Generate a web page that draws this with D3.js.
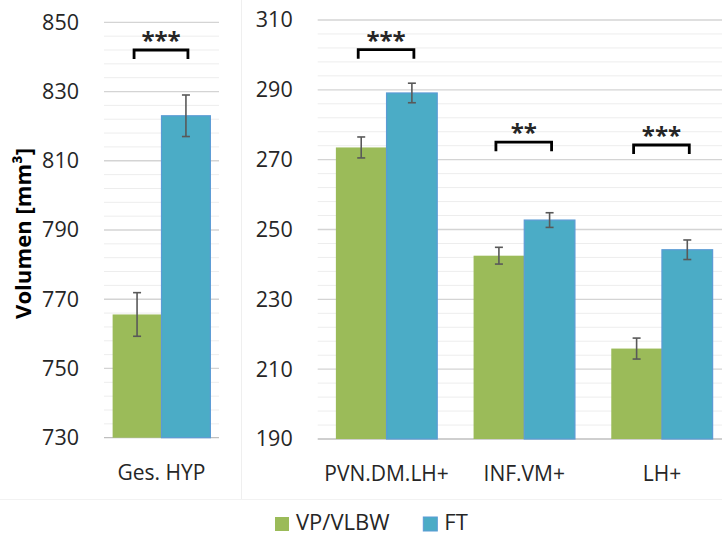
<!DOCTYPE html>
<html>
<head>
<meta charset="utf-8">
<script src="https://cdn.jsdelivr.net/npm/d3@7"></script>
<style>
	body { margin: 0; background: #fff; }
	svg { display: block; font-family: 'Open Sans', sans-serif; }
</style>
</head>
<body>
<div id="chart"></div>
<script>
const series = ['VP/VLBW', 'FT'];
const seriesColors = ['#9bbb59', '#4bacc6'];

const totalCategories = ['Ges. HYP'];
const totalVp = [765.6];
const totalVpErr = [6.3];
const totalFt = [823.0];
const totalFtErr = [6.0];
const totalTicks = [730, 750, 770, 790, 810, 830, 850];
const totalStars = ['***'];
const totalStarLevel = [842];

const regionCategories = ['PVN.DM.LH+', 'INF.VM+', 'LH+'];
const regionVp = [273.5, 242.5, 215.9];
const regionVpErr = [3.0, 2.4, 3.0];
const regionFt = [289.1, 252.7, 244.2];
const regionFtErr = [2.8, 2.1, 2.8];
const regionTicks = [190, 210, 230, 250, 270, 290, 310];
const regionStars = ['***', '**', '***'];
const regionStarLevel = [301.5, 275, 274.2];

class BarPanel {

	/**
	 * @param {d3.selection} svg
	 * @param {Object} opts
	 */
	constructor(svg, opts) {
		this.svg = svg;
		this.opts = opts;
	}

	draw(data) {
		const o = this.opts;
		this.g = this.svg.append('g');

		this.x = d3.scaleBand()
			.domain(data.categories)
			.range([o.left, o.right])
			.paddingInner(o.pad)
			.paddingOuter(o.pad / 2);

		this.xs = d3.scaleBand()
			.domain(series)
			.range([0, this.x.bandwidth()]);

		this.y = d3.scaleLinear()
			.domain(o.domain)
			.range([o.bottom, o.top]);

		this._drawGrid(o);
		this._drawAxes(data, o);
		this._drawBars(data);
		this._drawStars(data);
	}

	_drawGrid(o) {
		const [lo, hi] = o.domain;
		const minor = d3.range(lo, hi + 0.01, 4).filter(v => (v - lo) % 20 !== 0);

		this.g.append('g')
			.selectAll('line')
			.data(minor)
			.join('line')
			.attr('x1', o.left).attr('x2', o.gridEnd)
			.attr('y1', d => this.y(d)).attr('y2', d => this.y(d))
			.attr('stroke', '#ededed')
			.attr('stroke-width', 1);

		this.g.append('g')
			.selectAll('line')
			.data(o.ticks)
			.join('line')
			.attr('x1', o.left).attr('x2', o.gridEnd)
			.attr('y1', d => this.y(d)).attr('y2', d => this.y(d))
			.attr('stroke', d => d === lo ? '#bfbfbf' : '#d4d4d4')
			.attr('stroke-width', 1.3);
	}

	_drawAxes(data, o) {
		const yAxis = this.g.append('g')
			.attr('transform', `translate(${o.left},0)`)
			.call(d3.axisLeft(this.y).tickValues(o.ticks).tickSize(0).tickPadding(25));
		yAxis.select('.domain').remove();
		yAxis.selectAll('text')
			.attr('font-family', 'Open Sans')
			.attr('font-size', 21.5)
			.attr('fill', '#262626');

		const xAxis = this.g.append('g')
			.attr('transform', `translate(0,${o.bottom})`)
			.call(d3.axisBottom(this.x).tickSize(0).tickPadding(0));
		xAxis.select('.domain').remove();
		xAxis.selectAll('text')
			.attr('font-family', 'Open Sans')
			.attr('font-size', 21)
			.attr('fill', '#262626')
			.attr('dy', 0)
			.attr('y', 42);
	}

	_drawBars(data) {
		const rows = data.categories.map((c, i) => ({
			cat: c,
			vals: [
				{ s: series[0], v: data.vp[i], e: data.vpErr[i] },
				{ s: series[1], v: data.ft[i], e: data.ftErr[i] }
			]
		}));

		const groups = this.g.append('g')
			.selectAll('g')
			.data(rows)
			.join('g')
			.attr('transform', d => `translate(${this.x(d.cat)},0)`);

		groups.selectAll('rect')
			.data(d => d.vals)
			.join('rect')
			.attr('x', d => this.xs(d.s))
			.attr('y', d => this.y(d.v))
			.attr('width', this.xs.bandwidth())
			.attr('height', d => this.y(this.opts.domain[0]) - this.y(d.v))
			.attr('fill', (d, i) => seriesColors[i])
			.attr('stroke', (d, i) => i === 1 ? '#5b9bd5' : 'none')
			.attr('stroke-width', 1.2);

		const err = groups.selectAll('g.err')
			.data(d => d.vals)
			.join('g')
			.attr('class', 'err')
			.attr('stroke', '#595959')
			.attr('stroke-width', 1.6);

		const cx = d => this.xs(d.s) + this.xs.bandwidth() / 2;
		err.append('line')
			.attr('x1', cx).attr('x2', cx)
			.attr('y1', d => this.y(d.v + d.e)).attr('y2', d => this.y(d.v - d.e));
		[1, -1].forEach(k => {
			err.append('line')
				.attr('x1', d => cx(d) - 4).attr('x2', d => cx(d) + 4)
				.attr('y1', d => this.y(d.v + k * d.e)).attr('y2', d => this.y(d.v + k * d.e));
		});
	}

	_drawStars(data) {
		const half = this.xs.bandwidth() / 2;
		const marks = data.categories.map((c, i) => ({
			x1: this.x(c) + half - 3,
			x2: this.x(c) + this.xs.bandwidth() + half + 2,
			y: this.y(data.starLevel[i]),
			label: data.stars[i]
		}));

		const sig = this.g.append('g')
			.selectAll('g')
			.data(marks)
			.join('g');

		sig.append('path')
			.attr('d', d => `M${d.x1},${d.y + 9}V${d.y}H${d.x2}V${d.y + 9}`)
			.attr('fill', 'none')
			.attr('stroke', '#000')
			.attr('stroke-width', 2.8);

		sig.append('text')
			.attr('x', d => (d.x1 + d.x2) / 2)
			.attr('y', d => d.y - 1)
			.attr('text-anchor', 'middle')
			.attr('font-family', 'Open Sans')
			.attr('font-weight', 'bold')
			.attr('font-size', 24)
			.attr('fill', '#262626')
			.text(d => d.label);
	}
}

const svg = d3.select('#chart').append('svg')
	.attr('width', 722)
	.attr('height', 537);

// faint frame lines of the two original chart boxes
svg.append('line')
	.attr('x1', 241.5).attr('x2', 241.5).attr('y1', 0).attr('y2', 499)
	.attr('stroke', '#efefef');
svg.append('line')
	.attr('x1', 0).attr('x2', 722).attr('y1', 499.5).attr('y2', 499.5)
	.attr('stroke', '#f2f2f2');

new BarPanel(svg, {
	left: 104, right: 219, gridEnd: 219, top: 22.3, bottom: 437.7,
	pad: 0.15, domain: [730, 850], ticks: totalTicks
}).draw({
	categories: totalCategories, vp: totalVp, vpErr: totalVpErr,
	ft: totalFt, ftErr: totalFtErr, stars: totalStars, starLevel: totalStarLevel
});

new BarPanel(svg, {
	left: 317.7, right: 730.8, gridEnd: 722, top: 20, bottom: 439,
	pad: 0.264, domain: [190, 310], ticks: regionTicks
}).draw({
	categories: regionCategories, vp: regionVp, vpErr: regionVpErr,
	ft: regionFt, ftErr: regionFtErr, stars: regionStars, starLevel: regionStarLevel
});

const yTitle = svg.append('text')
	.attr('transform', 'translate(31,233.5) rotate(-90)')
	.attr('text-anchor', 'middle')
	.attr('font-family', 'Open Sans')
	.attr('font-weight', 'bold')
	.attr('font-size', 19)
	.attr('fill', '#000')
	.text('Volumen [mm³]');
// size the title so it spans the same length as in the original
const titleLen = yTitle.node().getComputedTextLength();
if (titleLen > 0) yTitle.attr('font-size', 19 * 171 / titleLen);

const legendX = [275, 423.3];
const legend = svg.append('g')
	.selectAll('g')
	.data(series)
	.join('g')
	.attr('transform', (d, i) => `translate(${legendX[i]},0)`);

legend.append('rect')
	.attr('y', 517)
	.attr('width', 14)
	.attr('height', 14)
	.attr('fill', (d, i) => seriesColors[i])
	.attr('stroke', (d, i) => i === 1 ? '#5b9bd5' : 'none');

legend.append('text')
	.attr('x', 21)
	.attr('y', 530)
	.attr('font-family', 'Open Sans')
	.attr('font-size', 22)
	.attr('fill', '#262626')
	.text(d => d);
</script>
</body>
</html>
